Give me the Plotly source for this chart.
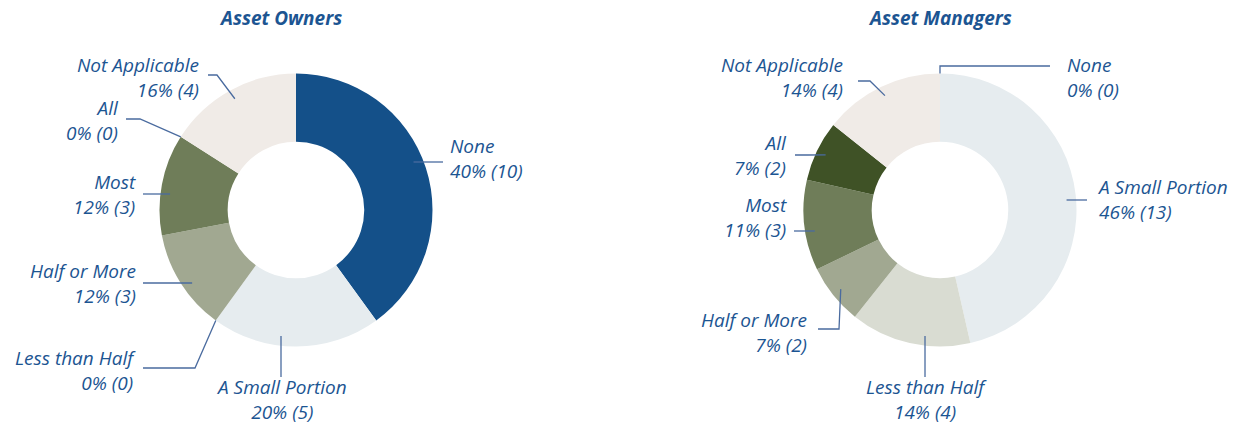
import math
import plotly.graph_objects as go

# ---------------- data ----------------
categories = ["None", "A Small Portion", "Less than Half", "Half or More",
              "Most", "All", "Not Applicable"]
owners_counts = [10, 5, 0, 3, 3, 0, 4]
managers_counts = [0, 13, 4, 2, 3, 2, 4]
chart_titles = ["Asset Owners", "Asset Managers"]

# ---------------- style / layout ----------------
W, H = 1241, 426
slice_colors = ["#145089", "#e6ecef", "#d9dcd2", "#a1a891",
                "#6f7d59", "#3f5226", "#f0ebe7"]
TEXT_COLOR = "#1c5592"
LINE_COLOR = "#4a6b9f"
FONT = "Open Sans"
LABEL_SIZE = 19
TITLE_SIZE = 19
CENTERS = [(296, 210), (940, 210)]
R = 136.5
HOLE = 0.5
RA = 0.93 * R
TITLE_POS = [(280, 18), (940, 18)]

# label placement: (x, y, xanchor, yanchor, leader)
label_layout = [
    {
        "None": (449, 158, "left", "middle", ("h", 162, 443)),
        "A Small Portion": (281, 426, "center", "bottom", ("v", 281, 377)),
        "Less than Half": (137, 370, "right", "middle", ("e", (195, 368), (143, 368))),
        "Half or More": (137, 283, "right", "middle", ("h", 283, 143)),
        "Most": (137, 194, "right", "middle", ("h", 194, 143)),
        "All": (120, 120, "right", "middle", ("e", (140, 119), (126, 119))),
        "Not Applicable": (200, 77, "right", "middle", ("e", (217, 75), (208, 75))),
    },
    {
        "None": (1066, 78, "left", "middle", ("e", (None, 66), (1050, 66))),
        "A Small Portion": (1096, 199, "left", "middle", ("h", 200, 1087)),
        "Less than Half": (926, 426, "center", "bottom", ("v", 925, 377)),
        "Half or More": (808, 332, "right", "middle", ("e", (839, 329), (818, 329))),
        "Most": (788, 218, "right", "middle", ("h", 231, 794)),
        "All": (788, 155, "right", "middle", ("e", (808, 155), (795, 155))),
        "Not Applicable": (844, 78, "right", "middle", ("e", (870, 81), (858, 81))),
    },
]


def px(x):
    return x / W


def py(y):
    return 1 - y / H


fig = go.Figure()
annotations = []
shapes = []

for idx, counts in enumerate([owners_counts, managers_counts]):
    cx, cy = CENTERS[idx]
    fig.add_trace(go.Pie(
        labels=categories, values=counts, sort=False, direction="clockwise",
        rotation=0, hole=HOLE, textinfo="none", hoverinfo="skip",
        marker=dict(colors=slice_colors, line=dict(width=0)),
        domain=dict(x=[px(cx - R), px(cx + R)], y=[py(cy + R), py(cy - R)]),
        showlegend=False,
    ))
    tx, ty = TITLE_POS[idx]
    annotations.append(dict(
        x=px(tx), y=py(ty), xref="paper", yref="paper", showarrow=False,
        text="<b><i>%s</i></b>" % chart_titles[idx], xanchor="center", yanchor="middle",
        borderpad=0, font=dict(family=FONT, size=TITLE_SIZE, color=TEXT_COLOR)))

    total = sum(counts)
    cum = 0
    for cat, v in zip(categories, counts):
        start = cum / total * 360
        cum += v
        if v > 0:
            ang = math.radians(start + v / total * 180)
            r = RA
        else:
            ang = math.radians(start)
            r = R
        ax_, ay_ = cx + r * math.sin(ang), cy - r * math.cos(ang)
        lx, ly, xa, ya, leader = label_layout[idx][cat]
        pct = round(v / total * 100)
        annotations.append(dict(
            x=px(lx), y=py(ly), xref="paper", yref="paper",
            showarrow=False, text="<i>%s<br>%d%% (%d)</i>" % (cat, pct, v), borderpad=0,
            xanchor=xa, yanchor=ya, align=xa,
            font=dict(family=FONT, size=LABEL_SIZE, color=TEXT_COLOR)))
        kind = leader[0]
        if kind == "h":
            yy, xend = leader[1], leader[2]
            sgn = 1 if xend > cx else -1
            xs = cx + sgn * math.sqrt(max(RA ** 2 - (yy - cy) ** 2, 0))
            pts = [(xs, yy), (xend, yy)]
        elif kind == "v":
            xx, yend = leader[1], leader[2]
            sgn = 1 if yend > cy else -1
            ys = cy + sgn * math.sqrt(max(RA ** 2 - (xx - cx) ** 2, 0))
            pts = [(xx, ys), (xx, yend)]
        else:
            (ex, ey), (enx, eny) = leader[1], leader[2]
            if ex is None:
                ex = ax_
            pts = [(ax_, ay_), (ex, ey), (enx, eny)]
        path = "M " + " L ".join("%.5f,%.5f" % (px(a), py(b)) for a, b in pts)
        shapes.append(dict(type="path", path=path, xref="paper", yref="paper",
                           line=dict(color=LINE_COLOR, width=1.3)))

fig.update_layout(
    width=W, height=H, margin=dict(l=0, r=0, t=0, b=0),
    paper_bgcolor="white", plot_bgcolor="white",
    annotations=annotations, shapes=shapes, showlegend=False,
)
fig.write_html("out.html", config={"displayModeBar": False},
               post_script="document.body.style.margin='0';document.body.style.overflow='hidden';")
